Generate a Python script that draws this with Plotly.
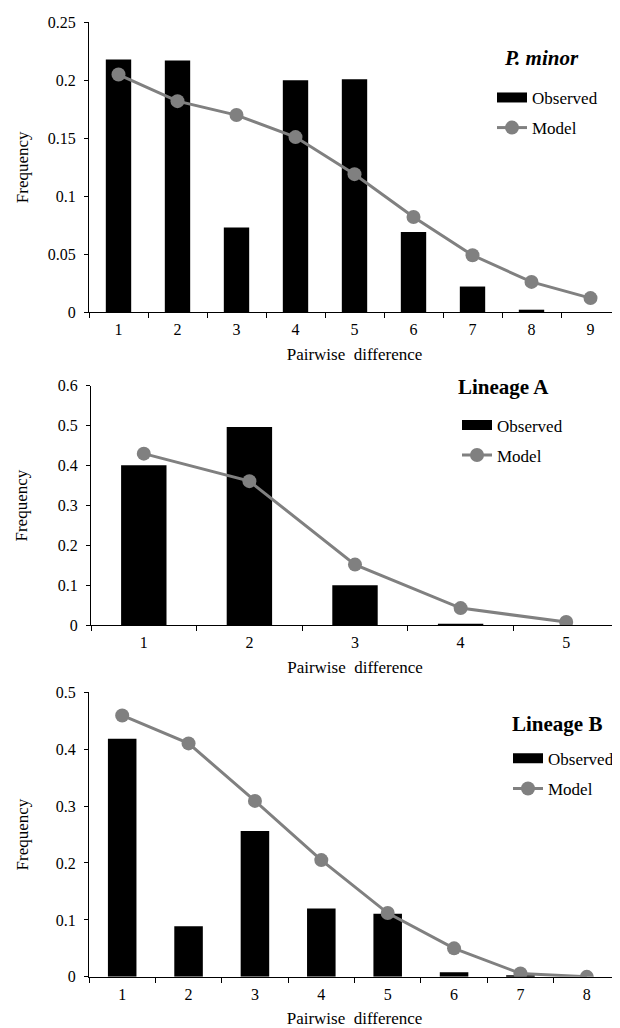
import plotly.graph_objects as go
from plotly.subplots import make_subplots

# ---- data ----
pm_x = ["1", "2", "3", "4", "5", "6", "7", "8", "9"]
pm_observed = [0.218, 0.217, 0.073, 0.200, 0.201, 0.069, 0.022, 0.002, 0.0]
pm_model = [0.205, 0.182, 0.170, 0.151, 0.119, 0.082, 0.049, 0.026, 0.012]

la_x = ["1", "2", "3", "4", "5"]
la_observed = [0.401, 0.497, 0.100, 0.003, 0.0]
la_model = [0.430, 0.361, 0.152, 0.043, 0.008]

lb_x = ["1", "2", "3", "4", "5", "6", "7", "8"]
lb_observed = [0.418, 0.089, 0.256, 0.120, 0.111, 0.008, 0.003, 0.0]
lb_model = [0.459, 0.410, 0.309, 0.205, 0.112, 0.050, 0.006, 0.0]

panel_titles = ["<b><i>P. minor</i></b>", "<b>Lineage A</b>", "<b>Lineage B</b>"]
y_ranges = [[0, 0.25], [0, 0.6], [0, 0.5]]
y_dtick = [0.05, 0.1, 0.1]

W, H = 620, 1028
FONT = "Liberation Serif, Times New Roman, serif"
GREY = "#808080"

fig = make_subplots(rows=3, cols=1)

panels = [(pm_x, pm_observed, pm_model), (la_x, la_observed, la_model), (lb_x, lb_observed, lb_model)]
legend_names = ["legend", "legend2", "legend3"]

for i, (xs, obs, mod) in enumerate(panels):
    r = i + 1
    lg = legend_names[i]
    fig.add_trace(go.Bar(x=xs, y=obs, marker=dict(color="black", line=dict(width=0)),
                         showlegend=False, name="Observed"), row=r, col=1)
    fig.add_trace(go.Scatter(x=xs, y=mod, mode="lines+markers", name="Model",
                             line=dict(color=GREY, width=3),
                             marker=dict(color=GREY, size=14),
                             legend=lg, legendgroup=f"m{r}", legendrank=2), row=r, col=1)
    # legend swatch entry for observed bars (wide black rectangle)
    fig.add_trace(go.Scatter(x=[None], y=[None], mode="lines", name="Observed",
                             line=dict(color="black", width=10),
                             legend=lg, legendgroup=f"o{r}", legendrank=1), row=r, col=1)

# layout positions in pixels
x_dom = [(81, 612), (83, 611), (81, 612)]
y_dom = [(6.5, 301), (376, 619.5), (687.5, 977)]

tickfont = dict(family=FONT, size=16, color="black")
titlefont = dict(family=FONT, size=17, color="black")

for i in range(3):
    xa = "xaxis" if i == 0 else f"xaxis{i+1}"
    ya = "yaxis" if i == 0 else f"yaxis{i+1}"
    n = len(panels[i][0])
    fig.layout[xa].update(
        domain=[x_dom[i][0] / W, x_dom[i][1] / W],
        type="category", range=[-0.5, n - 0.5],
        showline=True, linecolor="black", linewidth=1,
        ticks="outside", tickson="boundaries", ticklen=5, tickcolor="black",
        ticklabelstandoff=3,
        showgrid=False, zeroline=False,
        tickfont=tickfont,
        title=dict(text="Pairwise\u00a0 difference", font=titlefont, standoff=10),
    )
    fig.layout[ya].update(
        domain=[(H - y_dom[i][1]) / H, (H - y_dom[i][0]) / H],
        range=y_ranges[i], dtick=y_dtick[i], tick0=0,
        showline=True, linecolor="black", linewidth=1,
        ticks="outside", ticklen=4, tickcolor="black",
        ticklabelstandoff=5,
        showgrid=False, zeroline=False,
        tickfont=tickfont,
    )
    # y-axis title placed as rotated annotation
    fig.add_annotation(text="Frequency", xref="paper", yref="paper",
                       x=14 / W, y=(H - (y_dom[i][0] + y_dom[i][1]) / 2) / H,
                       xanchor="center", yanchor="middle", textangle=-90,
                       showarrow=False, font=titlefont)

leg_pos = [(484, 65), (449, 398), (500, 737)]
leg_common = dict(font=dict(family=FONT, size=17, color="black"), bgcolor="rgba(0,0,0,0)",
                  traceorder="grouped", tracegroupgap=5, xanchor="left", yanchor="top",
                  itemwidth=30)
fig.update_layout(
    legend=dict(x=leg_pos[0][0] / W, y=(H - leg_pos[0][1]) / H, **leg_common),
    legend2=dict(x=leg_pos[1][0] / W, y=(H - leg_pos[1][1]) / H, **leg_common),
    legend3=dict(x=leg_pos[2][0] / W, y=(H - leg_pos[2][1]) / H, **leg_common),
)

title_pos = [(533, 43), (495, 377), (549, 720)]
for i in range(3):
    fig.add_annotation(text=panel_titles[i], xref="paper", yref="paper",
                       x=title_pos[i][0] / W, y=(H - title_pos[i][1]) / H,
                       xanchor="center", yanchor="middle", showarrow=False,
                       font=dict(family=FONT, size=21, color="black"))

fig.update_layout(
    width=W, height=H, margin=dict(l=0, r=0, t=0, b=0),
    paper_bgcolor="white", plot_bgcolor="white",
    bargap=0.57, font=dict(family=FONT, color="black"),
)

fig.write_html("out.html")
